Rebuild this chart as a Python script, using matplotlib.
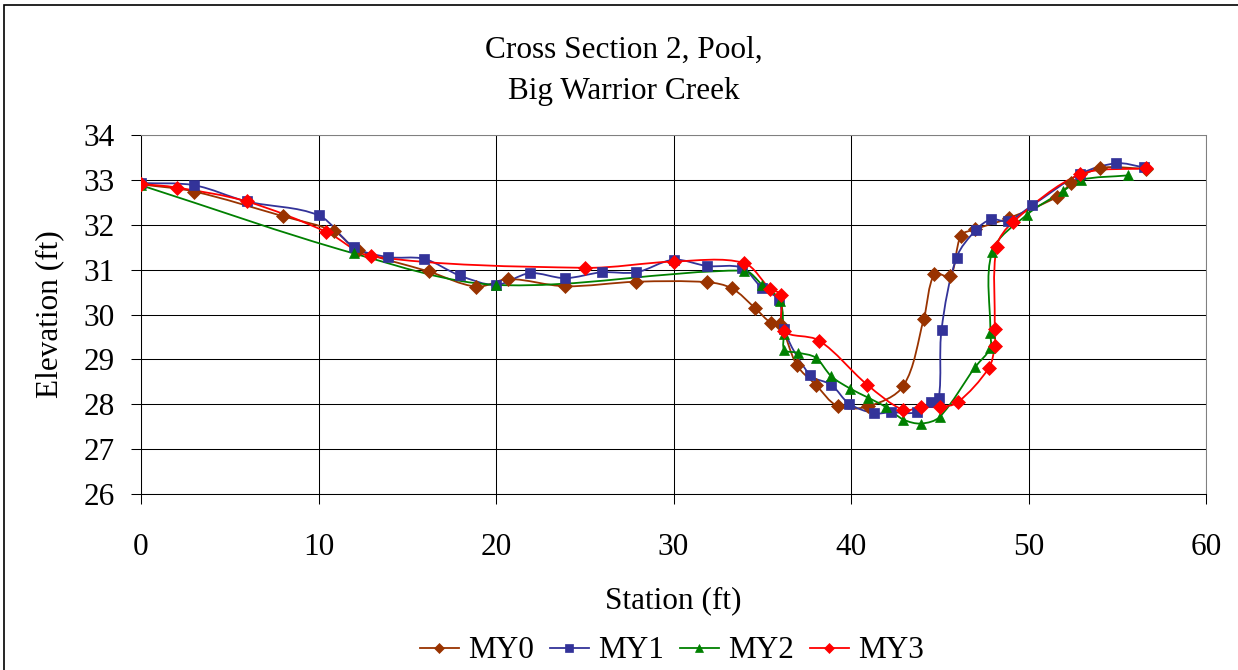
import numpy as np
import matplotlib
matplotlib.use("Agg")
import matplotlib.pyplot as plt
from matplotlib.path import Path
from matplotlib.patches import PathPatch, Rectangle
from matplotlib.lines import Line2D

# survey data (station ft, elevation ft)
my0_x = [0, 3.0, 8.0, 10.9, 12.2, 16.2, 18.9, 20.7, 23.9, 27.9, 31.9, 33.3, 34.6, 35.5,
         36.0, 36.95, 38.0, 39.25, 40.95, 42.95, 44.1, 44.7, 45.6, 46.2, 47.0, 48.9,
         51.6, 52.4, 54.0, 56.6]
my0_y = [32.9, 32.74, 32.19, 31.85, 31.44, 30.96, 30.62, 30.79, 30.63, 30.73, 30.72, 30.58,
         30.14, 29.81, 29.78, 28.87, 28.44, 27.96, 27.95, 28.41, 29.9, 30.9, 30.86, 31.76,
         31.9, 32.15, 32.62, 32.92, 33.26, 33.25]

my1_x = [0, 3.0, 5.95, 10.0, 12.0, 13.9, 15.95, 17.95, 20.0, 21.9, 23.9, 25.95, 27.9,
         30.0, 31.9, 33.85, 35.0, 35.95, 36.2, 37.7, 38.9, 39.9, 41.3, 42.25, 43.7, 44.5,
         44.95, 45.1, 45.95, 47.05, 47.9, 48.85, 50.2, 52.9, 54.95, 56.5]
my1_y = [32.93, 32.88, 32.52, 32.21, 31.5, 31.28, 31.24, 30.87, 30.66, 30.92, 30.81, 30.94,
         30.94, 31.22, 31.08, 31.04, 30.58, 30.32, 29.67, 28.65, 28.43, 28.01, 27.8, 27.82,
         27.82, 28.06, 28.15, 29.66, 31.27, 31.89, 32.12, 32.08, 32.43, 33.13, 33.37, 33.28]

my2_x = [0, 12.0, 20.0, 33.95, 35.0, 36.0, 36.2, 36.25, 37.0, 38.0, 38.9, 39.95, 40.95,
         41.95, 42.95, 43.95, 45.0, 47.0, 47.85, 47.85, 47.95, 49.9, 51.95, 52.95, 55.6]
my2_y = [32.88, 31.36, 30.66, 30.98, 30.66, 30.31, 29.56, 29.21, 29.15, 29.04, 28.62, 28.35,
         28.15, 27.94, 27.66, 27.57, 27.72, 28.83, 29.25, 29.58, 31.4, 32.22, 32.75, 33.0, 33.1]

my3_x = [0, 2.0, 5.95, 10.45, 12.95, 25.0, 30.0, 33.95, 35.45, 36.05, 36.2, 38.2, 40.9,
         42.95, 43.95, 45.0, 46.0, 47.75, 48.1, 48.1, 48.2, 49.15, 52.9, 56.6]
my3_y = [32.91, 32.83, 32.52, 31.84, 31.3, 31.04, 31.18, 31.15, 30.57, 30.44, 29.64, 29.42,
         28.44, 27.87, 27.94, 27.94, 28.04, 28.8, 29.3, 29.67, 31.5, 32.07, 33.12, 33.26]

series_names = ["MY0", "MY1", "MY2", "MY3"]
x_ticks = [0, 10, 20, 30, 40, 50, 60]
y_ticks = [26, 27, 28, 29, 30, 31, 32, 33, 34]

plt.rcParams['font.family'] = ['Liberation Serif', 'DejaVu Serif']
FS = 22.5
YSCALE = 44.9 / 17.75  # pixels per ft on y vs x, so segment lengths look like on screen


# smoothed line like Excel: cubic bezier through the points,
# tangents scaled by the neighbouring segment lengths to avoid overshoot
def smooth_path(x, y):
    pts = np.column_stack([x, y]).astype(float)
    n = len(pts)

    def seglen(a, b):
        d = b - a
        return np.hypot(d[0], d[1] * YSCALE)

    verts = [pts[0]]
    codes = [Path.MOVETO]
    for i in range(n - 1):
        p0 = pts[i - 1] if i > 0 else pts[i]
        p1 = pts[i]
        p2 = pts[i + 1]
        p3 = pts[i + 2] if i + 2 < n else pts[i + 1]
        l01, l12, l23 = seglen(p0, p1), seglen(p1, p2), seglen(p2, p3)
        f1 = l12 / (l01 + l12) / 3.0 if l01 + l12 > 0 else 0
        f2 = l12 / (l12 + l23) / 3.0 if l12 + l23 > 0 else 0
        verts += [p1 + (p2 - p0) * f1, p2 - (p3 - p1) * f2, p2]
        codes += [Path.CURVE4] * 3
    return Path(verts, codes)


fig = plt.figure(figsize=(12.38, 6.70), dpi=100)
W, H = 1238, 670
ax = fig.add_axes([141 / W, 1 - 494 / H, (1206 - 141) / W, (494 - 135) / H])

# outer chart border
fig.patches.append(Rectangle((4 / W, -0.1), 1.2, 1 - 5 / H + 0.1, transform=fig.transFigure,
                             fill=False, edgecolor='black', linewidth=1.2))

styles = [
    (my0_x, my0_y, '#993300', 'D', 7.0),
    (my1_x, my1_y, '#333399', 's', 6.8),
    (my2_x, my2_y, '#008000', '^', 7.8),
    (my3_x, my3_y, '#FF0000', 'D', 7.0),
]

handles = []
for (xs, ys, c, m, ms), name in zip(styles, series_names):
    ax.add_patch(PathPatch(smooth_path(xs, ys), fill=False, edgecolor=c, linewidth=1.3,
                           zorder=3))
    ax.plot(xs, ys, linestyle='none', marker=m, markersize=ms, color=c,
            markeredgecolor=c, markeredgewidth=0.5, zorder=4)
    handles.append(Line2D([], [], color=c, linewidth=1.3, marker=m, markersize=ms * 0.75,
                          markeredgewidth=0.5, label=name))

ax.set_xlim(0, 60)
ax.set_ylim(26, 34)
ax.set_xticks(x_ticks)
ax.set_yticks(y_ticks)
ax.grid(True, color='black', linewidth=0.75)
ax.set_axisbelow(True)
for s in ax.spines.values():
    s.set_color('black')
    s.set_linewidth(0.75)
ax.spines['top'].set_color('#808080')
ax.spines['right'].set_color('#808080')

ax.tick_params(axis='x', direction='out', length=7, width=0.75, labelsize=FS, pad=21)
ax.tick_params(axis='y', direction='out', length=7, width=0.75, labelsize=FS, pad=12)

fig.text(624 / W, 1 - 50 / H, "Cross Section 2, Pool,", ha='center', va='center', fontsize=FS)
fig.text(624 / W, 1 - 91 / H, "Big Warrior Creek", ha='center', va='center', fontsize=FS)
fig.text(50 / W, 1 - 314 / H, "Elevation (ft)", rotation=90, ha='center', va='center',
         fontsize=FS)
fig.text(673 / W, 1 - 601 / H, "Station (ft)", ha='center', va='center', fontsize=FS)

fig.legend(handles=handles, loc='center', bbox_to_anchor=(672 / W, 1 - 651 / H), ncol=4,
           frameon=False, fontsize=FS, handlelength=1.25, handletextpad=0.3,
           columnspacing=0.5, borderpad=0)

fig.savefig("out.png", dpi=100)
